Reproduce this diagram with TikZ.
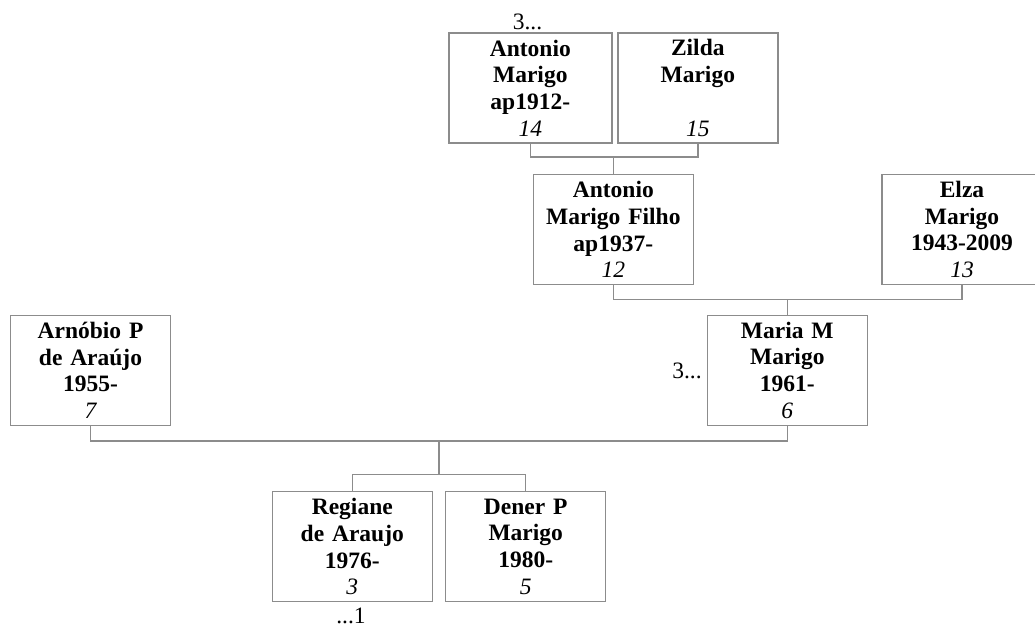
\documentclass[tikz,border=0pt]{standalone}
\usepackage{fontspec}
\setmainfont{Liberation Serif}
\definecolor{linegray}{RGB}{140,140,140}
\tikzset{
  person/.style={draw=linegray, line width=1.5pt, fill=white, minimum width=160pt, minimum height=110pt,
    inner sep=0pt, text width=158pt, align=center, font=\fontsize{23.5}{26.7}\selectfont\bfseries},
  conn/.style={draw=linegray, line width=1.5pt},
  note/.style={inner sep=0pt, font=\fontsize{23.5}{26.7}\selectfont}
}
\newcommand{\num}[1]{{\normalfont\itshape #1}}
\begin{document}
\begin{tikzpicture}[x=1pt,y=-1pt]
\useasboundingbox (0,0) rectangle (1035,627);
\begin{scope}
\clip (0,0) rectangle (1035,627);
\node[person, minimum width=163pt] (n14) at (530.3,88) {Antonio\\Marigo\\ap1912-\\\num{14}};
\node[person] (n15) at (697.8,88) {Zilda\\Marigo\\\mbox{}\\\num{15}};
\node[person] (n12) at (613.3,229.5) {Antonio\\Marigo Filho\\ap1937-\\\num{12}};
\node[person] (n13) at (962,229.5) {Elza\\Marigo\\1943-2009\\\num{13}};
\node[person] (n7) at (90.5,370.3) {Arnóbio P\\de Araújo\\1955-\\\num{7}};
\node[person] (n6) at (787.3,370.3) {Maria M\\Marigo\\1961-\\\num{6}};
\node[person] (n3) at (352.3,546.7) {Regiane\\de Araujo\\1976-\\\num{3}};
\node[person] (n5) at (525.7,546.7) {Dener P\\Marigo\\1980-\\\num{5}};

\node[note] (c14) at (527.5,22) {3...};
\node[note] (c6) at (687,371) {3...};
\node[note] (c3) at (351,616) {...1};

% couple 14-15 -> 12
\coordinate (j1) at (613.3,157);
\draw[conn] (n14.south) |- (j1) -| (n15.south);
\draw[conn] (j1) -- (n12.north);
% couple 12-13 -> 6
\coordinate (j2) at (787.3,299.3);
\draw[conn] (n12.south) |- (j2) -| (n13.south);
\draw[conn] (j2) -- (n6.north);
% couple 7-6 -> 3,5
\coordinate (j3) at (439,441.2);
\coordinate (j4) at (439,474.3);
\draw[conn] (n7.south) |- (j3) -| (n6.south);
\draw[conn] (j3) -- (j4);
\draw[conn] (n3.north) |- (j4) -| (n5.north);
\end{scope}
\end{tikzpicture}
\end{document}
